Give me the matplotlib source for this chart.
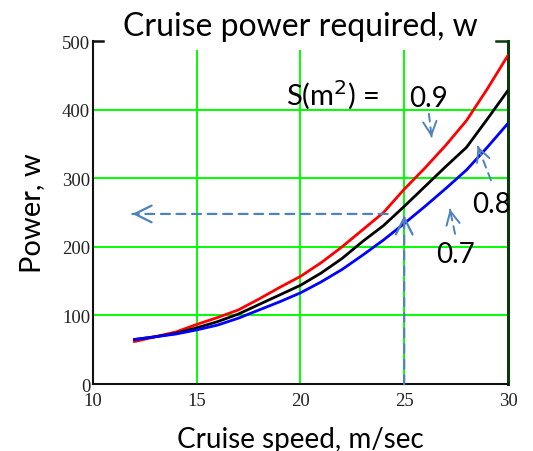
import numpy as np
import matplotlib
matplotlib.use("Agg")
import matplotlib.pyplot as plt

# data
speed = [12, 13, 14, 15, 16, 17, 18, 19, 20, 21, 22, 23, 24, 25, 26, 27, 28, 29, 30]
p_09 = [62, 69, 76, 87, 97, 108, 124, 141, 157, 177, 200, 225, 250, 284, 315, 348, 384, 430, 479]
p_08 = [65, 69, 74, 82, 91, 102, 116, 130, 144, 162, 183, 208, 231, 259, 288, 317, 345, 386, 428]
p_07 = [65, 69, 73, 79, 86, 96, 108, 120, 133, 149, 167, 188, 210, 234, 259, 285, 312, 345, 380]

xticks = [10, 15, 20, 25, 30]
yticks = [0, 100, 200, 300, 400, 500]

sans = ["Lato", "DejaVu Sans"]
serif = ["Liberation Serif", "DejaVu Serif"]

fig = plt.figure(figsize=(5.33, 4.52), dpi=100)
ax = fig.add_axes([0.1745, 0.148, 0.7785, 0.759])

# grid
for v in xticks[1:-1]:
    ax.axvline(v, ymax=0.971, color="#00ff00", lw=1.4, zorder=1)
for v in yticks[1:-1]:
    ax.axhline(v, color="#00ff00", lw=1.4, zorder=1)

ax.plot(speed, p_09, color="red", lw=2, zorder=3)
ax.plot(speed, p_08, color="black", lw=2, zorder=3)
ax.plot(speed, p_07, color="blue", lw=2, zorder=3)

ax.set_xlim(10, 30)
ax.set_ylim(0, 500)
ax.set_xticks(xticks)
ax.set_yticks(yticks)
ax.tick_params(length=0, labelsize=13.5, labelcolor="#222222")
ax.tick_params(axis="x", pad=6)
ax.tick_params(axis="y", pad=2)
for lbl in ax.get_xticklabels() + ax.get_yticklabels():
    lbl.set_family(serif)

ax.spines["top"].set_visible(False)
ax.spines["left"].set_linewidth(1.5)
ax.spines["bottom"].set_linewidth(1.5)
ax.spines["left"].set_color("#111111")
ax.spines["bottom"].set_color("#111111")
ax.spines["right"].set_color("#0a3a0a")
ax.spines["right"].set_linewidth(2.2)
# short stubs at the top corners
ax.plot([10, 10.5], [500, 500], color="#111111", lw=1.8, clip_on=False)
ax.plot([29.4, 30], [500, 500], color="#0a3a0a", lw=1.8, clip_on=False)

ax.set_title("Cruise power required, w", family=sans, fontsize=23, pad=2)
ax.set_xlabel("Cruise speed, m/sec", family=sans, fontsize=20, labelpad=12)
ax.set_ylabel("Power, w", family=sans, fontsize=21, labelpad=12)

# annotations: dashed shaft + solid open head
arrow_c = "#4f81bd"


def dashed_arrow(tip, tail, lw, size):
    ax.annotate("", xy=tip, xytext=tail, zorder=4,
                arrowprops=dict(arrowstyle="-", color=arrow_c, lw=lw,
                                linestyle=(0, (4, 3)), shrinkA=0, shrinkB=0))
    t = np.array(tip, float)
    d = np.array(tail, float) - t
    back = t + d * 0.02
    ax.annotate("", xy=tip, xytext=tuple(back), zorder=4,
                arrowprops=dict(arrowstyle="->", color=arrow_c, lw=lw,
                                mutation_scale=size, shrinkA=0, shrinkB=0))


dashed_arrow((11.9, 248), (24.2, 248), 1.6, 30)
dashed_arrow((25, 246), (25, 0), 1.6, 30)
dashed_arrow((26.32, 360), (26.19, 394), 1.4, 24)
dashed_arrow((28.54, 347), (29.18, 297), 1.4, 24)
dashed_arrow((27.2, 255), (27.45, 219), 1.4, 24)

ax.text(21.57, 423, "S(m$^2$) =", family=sans, fontsize=21, ha="center", va="center", math_fontfamily="dejavusans")
ax.text(26.15, 417, "0.9", family=sans, fontsize=20, ha="center", va="center")
ax.text(29.23, 263, "0.8", family=sans, fontsize=20, ha="center", va="center")
ax.text(27.45, 190, "0.7", family=sans, fontsize=20, ha="center", va="center")

fig.savefig("out.png", dpi=100)
